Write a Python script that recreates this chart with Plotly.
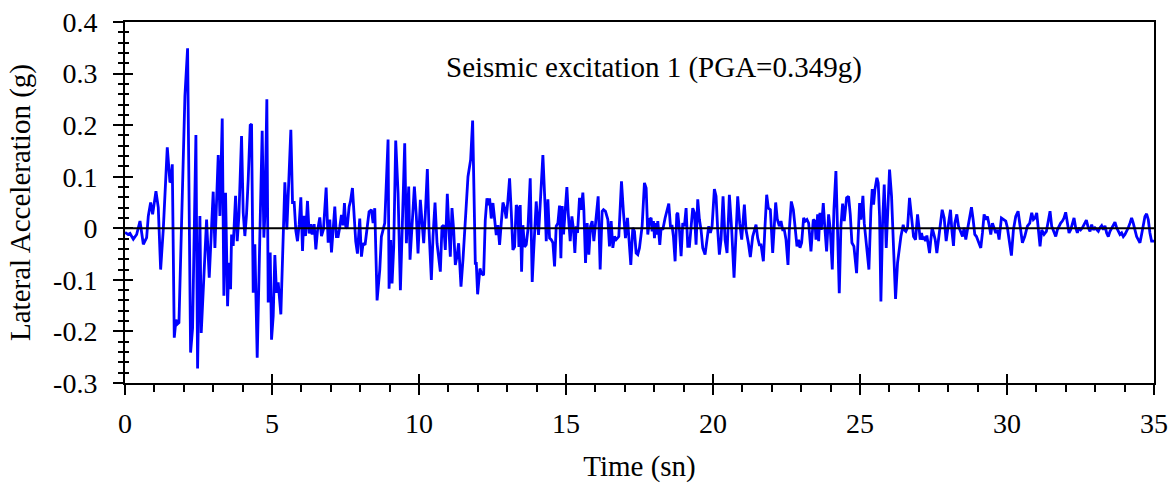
import plotly.graph_objects as go

# ---- data ----
time_s = [
    0.0, 0.1, 0.17, 0.283, 0.396, 0.51, 0.623, 0.736, 0.793, 0.872, 0.94, 0.985, 1.053, 1.132,
    1.212, 1.302, 1.359, 1.438, 1.529, 1.563, 1.608, 1.676, 1.733, 1.778, 1.835, 1.925,
    2.038, 2.129, 2.231, 2.299, 2.412, 2.469, 2.548, 2.593, 2.661, 2.775, 2.865, 3.0,
    3.058, 3.171, 3.228, 3.307, 3.363,
    3.42, 3.489, 3.534, 3.591, 3.625, 3.681, 3.761, 3.817, 3.874, 3.964, 4.021, 4.077,
    4.134, 4.191, 4.259, 4.304, 4.361, 4.417, 4.497, 4.587, 4.666, 4.723, 4.757, 4.825,
    4.871, 4.939, 4.984, 5.041, 5.097, 5.154, 5.211, 5.301, 5.381, 5.437, 5.505, 5.573,
    5.641, 5.698, 5.754, 5.811, 5.867, 5.924, 5.981, 6.038, 6.083, 6.14, 6.207, 6.264,
    6.321, 6.366, 6.434, 6.491, 6.547, 6.626, 6.683, 6.751, 6.842, 6.91, 6.966, 7.023,
    7.079, 7.136, 7.192, 7.249, 7.306, 7.362, 7.419, 7.464, 7.51, 7.555, 7.623, 7.668,
    7.736, 7.781, 7.849, 7.906, 7.985, 8.042, 8.099, 8.166, 8.234, 8.302, 8.382, 8.438,
    8.495, 8.574, 8.665, 8.721, 8.778, 8.835, 8.948, 8.982, 9.038, 9.084, 9.14, 9.208,
    9.288, 9.367, 9.435, 9.514, 9.571, 9.65, 9.695, 9.752, 9.843, 9.91, 9.967, 10.046,
    10.114, 10.16, 10.216, 10.284, 10.341, 10.42, 10.477, 10.545, 10.613,
    10.726, 10.782, 10.839, 10.895, 10.963, 11.009, 11.065, 11.122, 11.179, 11.235,
    11.292, 11.348, 11.428, 11.496, 11.575, 11.666, 11.756, 11.824, 11.869, 11.915,
    11.949, 11.994, 12.073, 12.119, 12.198, 12.254, 12.311, 12.368, 12.402, 12.458,
    12.515, 12.571, 12.628, 12.685, 12.741, 12.798, 12.855, 12.911, 12.968, 13.025,
    13.081, 13.138, 13.194, 13.251, 13.308, 13.364, 13.398, 13.443, 13.489, 13.534,
    13.591, 13.647, 13.704, 13.783, 13.851, 13.896, 13.987, 14.066, 14.134, 14.214,
    14.294, 14.328, 14.384, 14.441, 14.497, 14.554, 14.611, 14.667, 14.724, 14.78,
    14.826, 14.871, 14.916, 14.973, 15.03, 15.075, 15.143, 15.2, 15.256, 15.301, 15.347,
    15.392, 15.46, 15.517, 15.573, 15.607, 15.664, 15.72, 15.777, 15.834, 15.89, 15.947,
    16.026, 16.094, 16.162, 16.23, 16.275, 16.343, 16.423, 16.479, 16.536, 16.593,
    16.649, 16.706, 16.796, 16.887, 16.955, 17.023, 17.091, 17.136, 17.204, 17.272,
    17.329, 17.385, 17.442, 17.499, 17.589, 17.668,
    17.726, 17.782, 17.839, 17.896, 17.93, 17.975, 18.009, 18.043, 18.088, 18.122,
    18.156, 18.19, 18.235, 18.292, 18.371, 18.428, 18.496, 18.552, 18.609, 18.654,
    18.711, 18.768, 18.802, 18.858, 18.915, 18.971, 19.028, 19.085, 19.141, 19.198,
    19.255, 19.311, 19.368, 19.424, 19.481, 19.538, 19.594, 19.651, 19.73, 19.798,
    19.855, 19.911, 19.968, 20.047, 20.104, 20.16, 20.217, 20.274, 20.342, 20.41,
    20.478, 20.557, 20.636, 20.716, 20.772, 20.84, 20.908, 20.976, 21.067, 21.123,
    21.202, 21.27,
    21.35, 21.407, 21.463, 21.52, 21.577, 21.633, 21.713, 21.769, 21.826, 21.883,
    21.951, 22.03, 22.086, 22.132, 22.188, 22.256, 22.313, 22.37, 22.426, 22.483,
    22.551, 22.596, 22.664, 22.732, 22.789, 22.856, 22.913, 22.958, 23.015, 23.083,
    23.14, 23.196, 23.253, 23.332, 23.411, 23.468, 23.502, 23.559, 23.593, 23.638,
    23.683, 23.751, 23.797, 23.864, 23.932, 23.989, 24.057, 24.113, 24.181, 24.238,
    24.295, 24.351, 24.408, 24.465, 24.544, 24.612, 24.669, 24.725, 24.793, 24.884,
    24.941, 24.986, 25.031, 25.099, 25.145, 25.213, 25.303, 25.371, 25.417, 25.462,
    25.507, 25.575, 25.62, 25.666, 25.711, 25.768, 25.824, 25.892, 25.938, 26.005,
    26.073, 26.141, 26.209, 26.277, 26.334, 26.391, 26.47, 26.504, 26.56, 26.617,
    26.685, 26.753, 26.821, 26.889, 26.957, 27.002, 27.047, 27.093, 27.138, 27.183,
    27.229, 27.274, 27.319, 27.365, 27.41, 27.455, 27.5, 27.557, 27.614, 27.67, 27.727,
    27.795, 27.863, 27.931, 27.999, 28.078, 28.123, 28.18, 28.225, 28.293, 28.35,
    28.406, 28.452, 28.486,
    28.542, 28.598, 28.655, 28.712, 28.791, 28.848, 28.904, 28.961, 29.029, 29.108,
    29.165, 29.221, 29.278, 29.335, 29.391, 29.448, 29.505, 29.561, 29.618, 29.674,
    29.731, 29.81, 29.878, 29.958, 30.014, 30.071, 30.15, 30.218, 30.297, 30.377,
    30.444, 30.524, 30.603, 30.694, 30.773, 30.841, 30.898, 30.954, 31.011, 31.067,
    31.124, 31.181, 31.26, 31.339, 31.407, 31.464, 31.52, 31.6,
    31.657, 31.713, 31.77, 31.826, 31.883, 31.94, 31.996, 32.053, 32.11, 32.166, 32.223,
    32.28, 32.336, 32.393, 32.449, 32.506, 32.563, 32.619, 32.699, 32.766, 32.823,
    32.88, 32.936, 32.993, 33.05, 33.106, 33.163, 33.219, 33.276, 33.333, 33.389,
    33.446, 33.503, 33.559, 33.616, 33.672, 33.729, 33.786, 33.842, 33.899, 33.956,
    34.012, 34.069, 34.125, 34.182, 34.239, 34.295, 34.352, 34.409, 34.465, 34.522,
    34.578, 34.635, 34.692, 34.748, 34.805, 34.862, 34.918, 35.0,
]

accel_g = [
    -0.008, -0.012, -0.01, -0.021, -0.012, 0.014, -0.031, -0.018, 0.024, 0.05, 0.027, 0.043, 0.072, 0.04,
    -0.08, -0.002, 0.063, 0.157, 0.089, 0.092, 0.124, -0.212, -0.177, -0.186, -0.183, -0.002,
    0.257, 0.349, -0.241, -0.193, 0.181, -0.272, 0.024, -0.203, -0.112, 0.017, -0.096, 0.071,
    -0.038, 0.142, 0.024, 0.213, -0.131,
    0.069, -0.151, -0.067, -0.118, -0.012, -0.034, 0.063, -0.025, 0.024, 0.179, 0.03, -0.015,
    0.027, 0.095, 0.2, 0.202, -0.125, -0.031, -0.251, -0.015, 0.189, -0.018, 0.024, 0.25,
    -0.144, -0.047, -0.216, -0.17, -0.052, -0.125, -0.105, -0.167, 0.005, 0.089, -0.002, 0.115,
    0.191, 0.05, 0.05, -0.005, -0.025, 0.008, 0.06, -0.044, 0.024, -0.015, 0.053, -0.01,
    0.008, -0.012, 0.008, -0.041, -0.005, 0.021, -0.015, -0.002, 0.079, -0.028, 0.017, -0.047,
    -0.003, 0.042, -0.016, -0.016, 0.003, 0.026, 0.006, 0.049, 0.003, 0.0, 0.042, 0.052,
    0.078, 0.036, -0.026, -0.049, 0.019, -0.055, -0.029, -0.032, -0.003, 0.032, 0.036, 0.01,
    0.039, -0.14, -0.081, -0.016, -0.003, 0.01, 0.172, -0.117, -0.023, -0.107, -0.036, 0.17,
    0.068, -0.12, 0.01, 0.165, -0.029, 0.081, -0.061, -0.003, 0.081, 0.023, -0.049, 0.055,
    0.013, -0.029, 0.029, 0.115, -0.003, -0.1, -0.016, 0.05, -0.029,
    -0.084, 0.003, 0.006, -0.042, 0.067, 0.01, -0.055, 0.039, -0.003, -0.071,
    -0.055, -0.029, -0.113, -0.061, 0.01, 0.1, 0.133, 0.209, 0.074, -0.068,
    -0.068, -0.128, -0.078, -0.087, -0.091, 0.016, 0.058, 0.045, 0.058, 0.019,
    0.049, 0.023, -0.013, 0.006, -0.032, 0.01, 0.05, 0.039, 0.019, 0.055,
    0.097, 0.032, -0.042, -0.036, 0.045, 0.039, -0.036, 0.045, -0.084, 0.006,
    -0.036, -0.032, -0.003, 0.097, -0.104, -0.049, 0.052, -0.013, 0.061, 0.142,
    0.036, -0.025, 0.056, -0.019, -0.022, -0.028, -0.074, 0.004, 0.01, 0.044,
    -0.058, 0.043, -0.012, 0.027, 0.08, 0.03, -0.025, 0.023, -0.003, -0.048, 0.004,
    -0.009, 0.059, 0.036, 0.069, 0.036, -0.067, 0.01, -0.051, 0.004, 0.014, -0.025,
    0.017, 0.062, -0.08, 0.033, 0.036, 0.033, 0.017, -0.035, 0.014, -0.038,
    -0.016, -0.022, -0.016, 0.091, 0.03, -0.019, 0.02, -0.022, -0.071, 0.001,
    -0.006, -0.048, -0.051, -0.038, 0.004, 0.088,
    0.078, -0.012, 0.017, 0.02, -0.006, 0.014, -0.019, 0.01, -0.012, 0.014,
    -0.022, -0.032, 0.001, -0.003, 0.02, 0.036, 0.048, 0.004, 0.004, -0.016,
    -0.064, 0.027, 0.03, -0.003, -0.054, 0.01, 0.004, 0.039, -0.035, -0.035,
    0.004, 0.039, 0.03, -0.032, 0.056, 0.017, -0.003, -0.038, -0.051, -0.019,
    0.004, -0.009, 0.004, 0.076, 0.062, -0.003, -0.051, -0.022, 0.062, -0.022,
    -0.048, 0.065, -0.003, -0.096, -0.028, 0.062, 0.01, -0.022, 0.046, -0.003,
    -0.028, -0.056,
    -0.016, -0.003, 0.007, -0.019, -0.032, -0.032, -0.064, 0.004, 0.065, 0.039,
    0.036, -0.048, 0.023, 0.05, 0.017, 0.004, 0.014, -0.003, -0.003, -0.022,
    -0.071, -0.003, 0.052, 0.036, 0.004, -0.035, -0.022, -0.038, -0.028, 0.02,
    0.014, 0.017, 0.01, -0.045, 0.017, 0.014, -0.022, 0.027, -0.025, 0.03,
    -0.003, 0.049, 0.007, -0.045, 0.027, -0.003, -0.08, 0.036, 0.111, -0.003,
    -0.126, 0.004, 0.048, 0.014, 0.059, 0.062, 0.027, -0.028, -0.035, -0.087,
    0.01, 0.049, 0.017, 0.063, 0.01, -0.035, -0.08, 0.036, 0.076, 0.046,
    0.075, 0.098, 0.088, 0.023, -0.142, 0.01, 0.085, -0.038, 0.03, 0.114,
    0.062, -0.054, -0.137, -0.067, -0.035, -0.016, 0.007, -0.003, -0.006, 0.001,
    0.059, 0.017, -0.016, -0.022, 0.027, 0.004, -0.022, -0.009, -0.022, -0.016,
    -0.025, -0.014, -0.028, -0.048, -0.022, 0.001, -0.009, -0.022, -0.048, -0.022, -0.003,
    0.036, 0.02, -0.025, 0.004, 0.036, -0.003, -0.034, 0.01, 0.027, 0.004,
    -0.003, -0.009, -0.016,
    0.001, -0.022, -0.003, 0.017, 0.041, 0.017, -0.012, -0.016, -0.025, -0.038,
    -0.009, 0.027, 0.017, 0.023, 0.007, -0.012, 0.01, 0.001, -0.009, -0.003,
    -0.022, 0.02, 0.017, 0.014, 0.001, -0.022, -0.053, -0.003, 0.023, 0.033,
    0.001, -0.028, -0.016, 0.004, 0.01, 0.03, 0.017, 0.02, 0.03, 0.001,
    -0.035, -0.003, -0.012, -0.006, 0.02, 0.033, 0.004, -0.006,
    -0.016, -0.003, 0.004, 0.01, 0.014, 0.02, 0.031, 0.007, -0.009, -0.003, 0.01,
    0.02, 0.001, -0.009, 0.001, -0.003, 0.001, 0.007, 0.016, 0.001, -0.006,
    0.007, -0.003, 0.001, -0.003, -0.006, 0.001, 0.005, -0.003, 0.005, -0.009,
    -0.016, -0.006, 0.001, 0.007, 0.012, 0.001, -0.006, -0.012, -0.009, -0.016,
    -0.012, -0.006, 0.001, 0.01, 0.02, 0.01, -0.003, -0.016, -0.022, -0.028,
    -0.012, 0.007, 0.023, 0.028, 0.017, -0.009, -0.025, -0.025,
]

x_tick_vals = [0, 5, 10, 15, 20, 25, 30, 35]
x_tick_text = ["0", "5", "10", "15", "20", "25", "30", "35"]
y_tick_vals = [0.4, 0.3, 0.2, 0.1, 0.0, -0.1, -0.2, -0.3]
y_tick_text = ["0.4", "0.3", "0.2", "0.1", "0", "-0.1", "-0.2", "-0.3"]

x_title = "Time (sn)"
y_title = "Lateral Acceleration (g)"
note_text = "Seismic excitation 1 (PGA=0.349g)"

FONT = "Liberation Serif, Times New Roman, serif"
X_RANGE = [0, 35]
Y_RANGE = [-0.3, 0.4]

fig = go.Figure()
fig.add_trace(go.Scatter(
    x=time_s, y=accel_g, mode="lines",
    line=dict(color="#0000FF", width=2.8),
    showlegend=False, hoverinfo="skip",
))
# invisible companion trace so the overlay (inside-tick) axes are drawn
fig.add_trace(go.Scatter(
    x=time_s, y=accel_g, mode="lines", xaxis="x2", yaxis="y2",
    line=dict(width=0, color="rgba(0,0,0,0)"), showlegend=False, hoverinfo="skip",
))

fig.add_hline(y=0, line=dict(color="black", width=2), layer="above")

fig.add_annotation(
    x=18.0, y=0.312, xref="x", yref="y", text=note_text, showarrow=False,
    font=dict(family=FONT, size=29, color="black"),
)

fig.update_layout(
    width=1173, height=483,
    margin=dict(l=125, r=19, t=22, b=100),
    paper_bgcolor="white", plot_bgcolor="white",
    font=dict(family=FONT, color="black", size=28),
    xaxis=dict(
        range=X_RANGE, tickvals=x_tick_vals, ticktext=x_tick_text,
        ticks="outside", ticklen=10, tickwidth=1.6, tickcolor="black",
        minor=dict(ticks="outside", ticklen=7, dtick=1, tickwidth=1.6, tickcolor="black"),
        showline=True, linecolor="black", linewidth=2, mirror=True,
        showgrid=False, zeroline=False, automargin=False,
        tickfont=dict(family=FONT, size=28),
        ticklabelstandoff=4,
        title=dict(text=x_title, font=dict(family=FONT, size=29), standoff=20),
    ),
    yaxis=dict(
        range=Y_RANGE, tickvals=y_tick_vals, ticktext=y_tick_text,
        ticks="outside", ticklen=10, tickwidth=1.6, tickcolor="black",
        minor=dict(ticks="outside", ticklen=5, dtick=0.02, tickwidth=1.6, tickcolor="black"),
        showline=True, linecolor="black", linewidth=2, mirror=True,
        showgrid=False, zeroline=False, automargin=False,
        tickfont=dict(family=FONT, size=28),
        ticklabelstandoff=10,
        title=dict(text=y_title, font=dict(family=FONT, size=29), standoff=14),
    ),
    xaxis2=dict(
        range=X_RANGE, overlaying="x", anchor="y2", side="bottom",
        tickvals=x_tick_vals, showticklabels=False,
        ticks="inside", ticklen=9, tickwidth=1.6, tickcolor="black",
        showline=False, showgrid=False, zeroline=False, automargin=False,
    ),
    yaxis2=dict(
        range=Y_RANGE, overlaying="y", anchor="x2", side="left",
        tickvals=y_tick_vals, showticklabels=False,
        ticks="inside", ticklen=8, tickwidth=1.6, tickcolor="black",
        minor=dict(ticks="inside", ticklen=4, dtick=0.02, tickwidth=1.6, tickcolor="black"),
        showline=False, showgrid=False, zeroline=False, automargin=False,
    ),
)

fig.write_html("out.html")
